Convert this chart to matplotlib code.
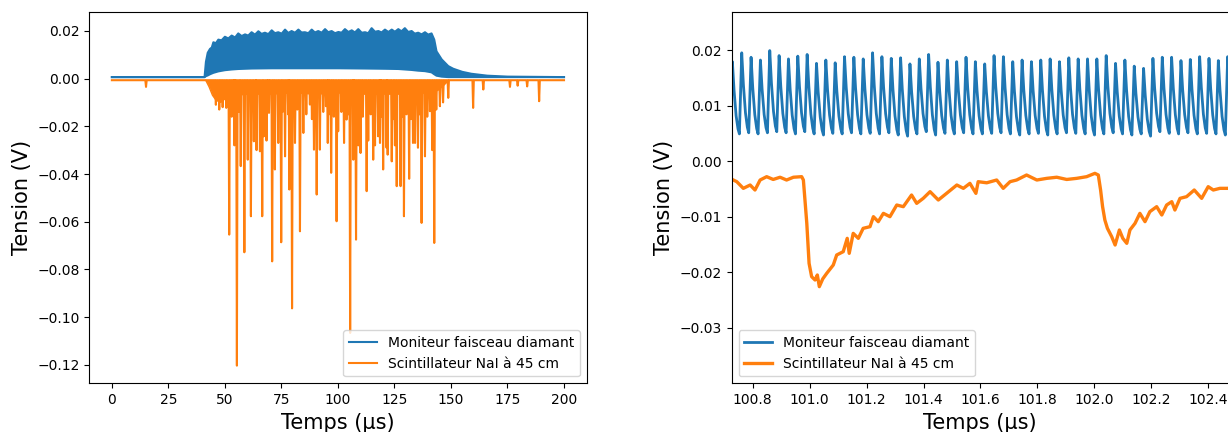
import numpy as np
import matplotlib
matplotlib.use("Agg")
import matplotlib.pyplot as plt

# --- gauche : vue d'ensemble (0-200 us) ---
# moniteur diamant : enveloppe haute du signal HF
diam_hi_t = [0, 41.0, 41.6, 42.4, 43.4, 44.2, 44.9, 46.0, 47.1, 48.5, 50.0, 51.5, 53.0,
             54.5, 55.9, 57.4, 58.9, 60.3, 61.8, 63.3, 64.8, 66.2, 67.7, 69.2, 70.7,
             72.1, 73.6, 75.1, 76.6, 78.0, 79.5, 81.0, 82.5, 83.9, 85.4, 86.9, 88.4,
             89.8, 91.3, 92.8, 94.3, 95.7, 97.2, 98.7, 100.2, 101.6, 103.1, 104.6,
             106.1, 107.5, 109.0, 110.5, 112.0, 113.4, 114.9, 116.4, 117.9, 119.3,
             120.8, 122.3, 123.8, 125.2, 126.7, 128.1, 129.6, 131.1, 132.6, 134.0,
             135.5, 137.0, 138.5, 139.9, 141.4, 142.6, 143.6, 145.9, 148.8, 151.0,
             155.0, 159.0, 166.0, 175.0, 200.0]
diam_hi = [0.0006, 0.0006, 0.0070, 0.0108, 0.0124, 0.0130, 0.0152, 0.0148, 0.0163, 0.0160,
           0.0175, 0.0168, 0.0180, 0.0172, 0.0189, 0.0178, 0.0185, 0.0180, 0.0194, 0.0184,
           0.0198, 0.0187, 0.0192, 0.0186, 0.0202, 0.0190, 0.0194, 0.0188, 0.0205, 0.0191,
           0.0199, 0.0192, 0.0205, 0.0193, 0.0194, 0.0190, 0.0205, 0.0193, 0.0199, 0.0192,
           0.0207, 0.0194, 0.0199, 0.0190, 0.0195, 0.0192, 0.0207, 0.0195, 0.0202, 0.0193,
           0.0207, 0.0192, 0.0194, 0.0190, 0.0211, 0.0196, 0.0199, 0.0193, 0.0205, 0.0195,
           0.0205, 0.0196, 0.0207, 0.0198, 0.0211, 0.0195, 0.0199, 0.0188, 0.0192, 0.0185,
           0.0194, 0.0184, 0.0189, 0.0163, 0.0114, 0.0080, 0.0052, 0.0041, 0.0028, 0.0020,
           0.0012, 0.0008, 0.0006]
# enveloppe basse
diam_lo_t = [0, 41.0, 41.6, 42.4, 43.4, 44.9, 47.1, 50.0, 53.0, 55.9, 61.8, 70.7, 100.2,
             112.0, 120.8, 126.7, 132.6, 135.5, 138.5, 141.4, 142.6, 143.6, 145.9, 148.8,
             200.0]
diam_lo = [0.0006, 0.0006, 0.0010, 0.0013, 0.0018, 0.0024, 0.0030, 0.0035, 0.0038, 0.0040,
           0.0042, 0.0043, 0.0043, 0.0042, 0.0041, 0.0040, 0.0036, 0.0033, 0.0031, 0.0026,
           0.0018, 0.0012, 0.0008, 0.0006, 0.0006]

# NaI : ligne de base, zone dense pendant le faisceau, pics individuels
nai_base = -0.0007
nai_floor_t = [41.5, 43, 44.5, 46, 48, 50, 55, 60, 70, 80, 90, 100, 110, 120, 130,
               140, 144, 146.5, 149]
nai_floor_v = [-0.0007, -0.0035, -0.0070, -0.0090, -0.0100, -0.0085, -0.0070, -0.0065,
               -0.0065, -0.0060, -0.0065, -0.0060, -0.0065, -0.0065, -0.0065, -0.0060,
               -0.0050, -0.0030, -0.0007]
nai_spike_t = [15.1, 46.0, 47.5, 49.0, 50.6, 51.9, 53.0, 54.0, 54.2, 55.3, 56.3, 57.0,
               58.6, 60.1, 61.5, 62.8, 63.5, 64.0, 65.5, 66.5, 67.2, 68.4, 69.0, 69.5,
               70.9, 71.5, 72.1, 73.6, 74.9, 75.5, 76.6, 78.0, 78.5, 79.7, 81.0, 82.0,
               83.2, 84.7, 86.0, 87.6, 88.5, 89.4, 90.6, 92.0, 93.5, 94.7, 95.5, 96.0,
               97.0, 98.2, 99.4, 100.1, 101.5, 102.7, 103.8, 104.5, 105.4, 106.8, 107.2,
               108.0, 109.0, 110.0, 111.0, 112.7, 113.4, 114.5, 115.6, 116.4, 117.8,
               118.6, 119.0, 120.0, 121.5, 122.0, 123.8, 124.5, 125.2, 126.0, 127.7,
               128.3, 129.2, 130.3, 131.5, 132.3, 133.2, 134.1, 135.4, 136.0, 137.0,
               138.5, 139.5, 140.7, 141.7, 142.6, 143.5, 145.1, 146.5, 148.8, 159.8,
               164.3, 176.1, 179.5, 183.7, 189.0]
nai_spike_v = [-0.0035, -0.0110, -0.0130, -0.0120, -0.0123, -0.0654, -0.0160, -0.0150,
               -0.0280, -0.1203, -0.0140, -0.0367, -0.0728, -0.0340, -0.0577, -0.0263,
               -0.0150, -0.0300, -0.0305, -0.0577, -0.0242, -0.0260, -0.0130, -0.0144,
               -0.0766, -0.0160, -0.0381, -0.0270, -0.0686, -0.0140, -0.0326, -0.0150,
               -0.0465, -0.0963, -0.0270, -0.0130, -0.0640, -0.0228, -0.0150, -0.0109,
               -0.0170, -0.0298, -0.0486, -0.0298, -0.0140, -0.0116, -0.0270, -0.0150,
               -0.0395, -0.0160, -0.0598, -0.0221, -0.0140, -0.0270, -0.0172, -0.0150,
               -0.1066, -0.0340, -0.0300, -0.0675, -0.0280, -0.0312, -0.0160, -0.0472,
               -0.0260, -0.0150, -0.0340, -0.0280, -0.0242, -0.0270, -0.0160, -0.0381,
               -0.0290, -0.0319, -0.0347, -0.0170, -0.0280, -0.0451, -0.0451, -0.0160,
               -0.0577, -0.0150, -0.0420, -0.0170, -0.0270, -0.0270, -0.0290, -0.0150,
               -0.0605, -0.0326, -0.0160, -0.0137, -0.0300, -0.0689, -0.0130, -0.0116,
               -0.0100, -0.0081, -0.0123, -0.0046, -0.0035, -0.0030, -0.0033, -0.0095]

# --- droite : zoom 100.7-102.5 us ---
rf_t0 = 100.7286      # premier pic visible
rf_period = 0.032827  # periode HF (us)
rf_peaks = [0.0179, 0.0195, 0.0187, 0.0182, 0.0199, 0.0190, 0.0184, 0.0189, 0.0192, 0.0176,
            0.0182, 0.0177, 0.0188, 0.0187, 0.0184, 0.0195, 0.0188, 0.0185, 0.0186, 0.0175,
            0.0184, 0.0192, 0.0178, 0.0182, 0.0179, 0.0187, 0.0179, 0.0175, 0.0190, 0.0188,
            0.0179, 0.0182, 0.0179, 0.0182, 0.0184, 0.0179, 0.0186, 0.0184, 0.0184, 0.0184,
            0.0190, 0.0176, 0.0182, 0.0171, 0.0167, 0.0185, 0.0187, 0.0187, 0.0181, 0.0183,
            0.0188, 0.0185, 0.0181, 0.0188]
rf_troughs = [0.0049, 0.0049, 0.0051, 0.0049, 0.0051, 0.0053, 0.0051, 0.0049, 0.0053, 0.0049,
              0.0047, 0.0050, 0.0049, 0.0051, 0.0049, 0.0050, 0.0049, 0.0051, 0.0047, 0.0045,
              0.0049, 0.0053, 0.0047, 0.0050, 0.0049, 0.0051, 0.0049, 0.0049, 0.0050, 0.0051,
              0.0049, 0.0047, 0.0049, 0.0050, 0.0047, 0.0049, 0.0051, 0.0050, 0.0049, 0.0047,
              0.0049, 0.0051, 0.0049, 0.0047, 0.0049, 0.0045, 0.0053, 0.0050, 0.0049, 0.0051,
              0.0049, 0.0050, 0.0049, 0.0047]
# forme d'une periode (phase apres le pic, fraction pic->creux)
rf_decay_phase = [0.18, 0.40, 0.60]
rf_decay_frac = [0.60, 0.25, 0.07]

nai_zoom_t = [100.720, 100.744, 100.767, 100.791, 100.808, 100.826, 100.849, 100.872,
              100.896, 100.919, 100.943, 100.972, 100.978, 100.990, 100.998, 101.007,
              101.019, 101.027, 101.034, 101.046, 101.060, 101.083, 101.095, 101.118,
              101.132, 101.139, 101.153, 101.171, 101.188, 101.212, 101.224, 101.241,
              101.259, 101.282, 101.306, 101.329, 101.358, 101.376, 101.399, 101.423,
              101.452, 101.481, 101.517, 101.540, 101.563, 101.584, 101.592, 101.622,
              101.657, 101.680, 101.704, 101.727, 101.762, 101.798, 101.833, 101.868,
              101.903, 101.938, 101.973, 102.002, 102.014, 102.022, 102.029, 102.037,
              102.046, 102.061, 102.073, 102.088, 102.100, 102.114, 102.125, 102.143,
              102.160, 102.178, 102.195, 102.219, 102.237, 102.254, 102.272, 102.283,
              102.301, 102.324, 102.351, 102.377, 102.400, 102.418, 102.441, 102.468,
              102.490]
nai_zoom_v = [-0.0031, -0.0037, -0.0049, -0.0043, -0.0052, -0.0034, -0.0028, -0.0033,
              -0.0029, -0.0034, -0.0029, -0.0028, -0.0034, -0.0112, -0.0184, -0.0208,
              -0.0214, -0.0205, -0.0226, -0.0212, -0.0202, -0.0187, -0.0169, -0.0163,
              -0.0139, -0.0166, -0.0130, -0.0139, -0.0121, -0.0118, -0.0100, -0.0109,
              -0.0094, -0.0100, -0.0079, -0.0082, -0.0061, -0.0076, -0.0067, -0.0055,
              -0.0070, -0.0058, -0.0043, -0.0049, -0.0040, -0.0058, -0.0037, -0.0039,
              -0.0034, -0.0049, -0.0037, -0.0034, -0.0025, -0.0034, -0.0031, -0.0029,
              -0.0033, -0.0031, -0.0028, -0.0022, -0.0025, -0.0052, -0.0082, -0.0106,
              -0.0121, -0.0136, -0.0151, -0.0124, -0.0139, -0.0148, -0.0124, -0.0112,
              -0.0094, -0.0109, -0.0091, -0.0082, -0.0097, -0.0079, -0.0073, -0.0088,
              -0.0067, -0.0064, -0.0052, -0.0067, -0.0046, -0.0052, -0.0049, -0.0049,
              -0.0047]

LBL_DIAM = "Moniteur faisceau diamant"
LBL_NAI = "Scintillateur NaI à 45 cm"
C_BLUE = "#1f77b4"
C_ORANGE = "#ff7f0e"

fig = plt.figure(figsize=(12.28, 4.32), dpi=100)
ax1 = fig.add_axes([0.0727, 0.1127, 0.4050, 0.8602])
ax2 = fig.add_axes([0.5958, 0.1127, 0.4050, 0.8602])

# ---- panneau gauche ----
ax1.fill(np.r_[diam_hi_t, diam_lo_t[::-1]], np.r_[diam_hi, diam_lo[::-1]],
         color=C_BLUE, lw=0)
ax1.plot(diam_hi_t, diam_hi, color=C_BLUE, lw=1.5, label=LBL_DIAM)
ax1.plot(diam_lo_t, diam_lo, color=C_BLUE, lw=1.5)

# trace NaI : retour a la ligne de base entre chaque pic
w = 0.3
t_nai, v_nai = [0.0], [nai_base]
for ts, vs in zip(nai_spike_t, nai_spike_v):
    t_nai += [ts - w, ts, ts + w]
    v_nai += [nai_base, vs, nai_base]
t_nai.append(200.0)
v_nai.append(nai_base)
ax1.fill_between(nai_floor_t, nai_base, nai_floor_v, color=C_ORANGE, lw=0)
ax1.plot(nai_floor_t, nai_floor_v, color=C_ORANGE, lw=1.0)
ax1.plot(t_nai, v_nai, color=C_ORANGE, lw=1.5, label=LBL_NAI)

ax1.set_xlim(-10, 210)
ax1.set_ylim(-0.1277, 0.0280)
ax1.set_xticks(np.arange(0, 201, 25))
ax1.set_yticks(np.arange(-0.12, 0.021, 0.02))
ax1.set_xlabel("Temps (µs)", fontsize=15)
ax1.set_ylabel("Tension (V)", fontsize=15)
ax1.legend(loc="lower right")

# ---- panneau droit ----
t_rf, v_rf = [], []
for k, (pk, tr) in enumerate(zip(rf_peaks, rf_troughs)):
    tp = rf_t0 + k * rf_period
    t_rf += [tp - 0.25 * rf_period, tp]
    v_rf += [tr, pk]
    nxt = rf_troughs[k + 1] if k + 1 < len(rf_troughs) else tr
    for ph, fr in zip(rf_decay_phase, rf_decay_frac):
        t_rf.append(tp + ph * rf_period)
        v_rf.append(nxt + fr * (pk - nxt))
t_rf.append(rf_t0 + (len(rf_peaks) - 0.25) * rf_period)
v_rf.append(rf_troughs[-1])

ax2.plot(t_rf, v_rf, color=C_BLUE, lw=2.0, label=LBL_DIAM)
ax2.plot(nai_zoom_t, nai_zoom_v, color=C_ORANGE, lw=2.4, label=LBL_NAI)
ax2.set_xlim(100.726, 102.473)
ax2.set_ylim(-0.0400, 0.0269)
ax2.set_xticks(np.round(np.arange(100.8, 102.41, 0.2), 1))
ax2.set_yticks(np.round(np.arange(-0.03, 0.021, 0.01), 2))
ax2.set_xlabel("Temps (µs)", fontsize=15)
ax2.set_ylabel("Tension (V)", fontsize=15)
ax2.legend(loc="lower left")

fig.savefig("out.png", dpi=100)
